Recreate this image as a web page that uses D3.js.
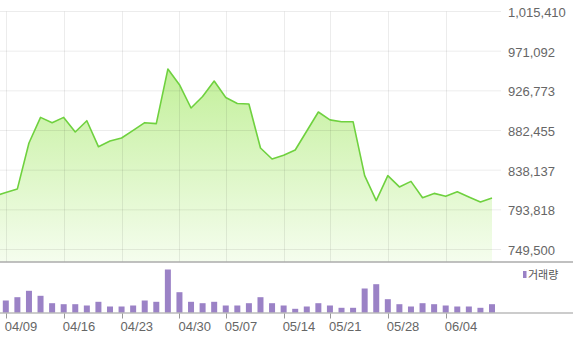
<!DOCTYPE html>
<html>
<head>
    <meta charset="UTF-8" />
    <title>Price and volume</title>
    <script src="https://d3js.org/d3.v7.min.js"></script>
    <style>
    body { margin: 0; background: #fff; }
    text { font-family: "Liberation Sans", Arial, sans-serif; }
    </style>
</head>
<body>
<div id="main"></div>
<script type="text/javascript">

// trading days (first one is only partly visible at the left edge)
const dates = [
  "04/06",
  "04/09", "04/10", "04/11", "04/12", "04/13",
  "04/16", "04/17", "04/18", "04/19", "04/20",
  "04/23", "04/24", "04/25", "04/26", "04/27",
  "04/30", "05/02", "05/03", "05/04",
  "05/07", "05/08", "05/09", "05/10", "05/11",
  "05/14", "05/15", "05/16", "05/17",
  "05/21", "05/22", "05/23", "05/24", "05/25",
  "05/28", "05/29", "05/30", "05/31", "06/01",
  "06/04", "06/05", "06/06", "06/07", "06/08"
]

const prices = [
  809100,
  813100, 817200, 868500, 897100, 891200,
  897100, 880800, 893400, 864400, 870700,
  874100, 882600, 891200, 890100, 951100,
  933600, 907600, 920500, 937700,
  919400, 912700, 912000, 862900, 850600,
  854700, 860700, 881900, 903100,
  894300, 892300, 892300, 832000, 804100,
  832000, 819400, 825600, 807400, 812200,
  808900, 814100, 808200, 802600, 807100
]

const volumes = [
  20000,
  24000, 30600, 43400, 33400, 18600,
  16600, 16600, 14000, 21400, 12000,
  12000, 14000, 24000, 21400, 86000,
  40600, 21400, 18600, 21400,
  14000, 14000, 18600, 30600, 18600,
  14000, 7400, 12000, 18600,
  14000, 9400, 9400, 48000, 56600,
  26600, 16600, 12000, 18600, 16600,
  14000, 12000, 12000, 9400, 16600
]

const tickLabels = ["04/09", "04/16", "04/23", "04/30", "05/07", "05/14", "05/21", "05/28", "06/04"]
const priceTicks = [749500, 793818, 838137, 882455, 926773, 971092, 1015410]
const legendLabel = "거래량"

const width = 573
const height = 338
const plotRight = 501
const priceBottom = 262
const volBase = 312.5

const data = dates.map((d, i) => ({ date: d, price: prices[i], volume: volumes[i] }))

const x = d3.scalePoint()
  .domain(dates)
  .range([-5.77, 492])

const y = d3.scaleLinear()
  .domain([749500, 1015410])
  .range([249.5, 11.5])

const yVol = d3.scaleLinear()
  .domain([0, 100000])
  .range([volBase, volBase - 50])

const svg = d3.select("#main").append("svg")
  .attr("width", width)
  .attr("height", height)

const defs = svg.append("defs")
defs.append("clipPath").attr("id", "plot")
  .append("rect")
  .attr("x", 0).attr("y", 0)
  .attr("width", plotRight).attr("height", priceBottom)

const grad = defs.append("linearGradient")
  .attr("id", "fillGrad")
  .attr("gradientUnits", "userSpaceOnUse")
  .attr("x1", 0).attr("x2", 0)
  .attr("y1", 60).attr("y2", priceBottom)
grad.append("stop").attr("offset", 0).attr("stop-color", "#c0ef96")
grad.append("stop").attr("offset", 1).attr("stop-color", "#f5fdee")

const plot = svg.append("g").attr("clip-path", "url(#plot)")

// price area + line
const area = d3.area()
  .x(d => x(d.date))
  .y0(priceBottom)
  .y1(d => y(d.price))

const line = d3.line()
  .x(d => x(d.date))
  .y(d => y(d.price))

plot.append("path")
  .datum(data)
  .attr("d", area)
  .attr("fill", "url(#fillGrad)")

// grid drawn over the fill, semi transparent
plot.selectAll(".hgrid").data(priceTicks).enter().append("line")
  .attr("x1", 0).attr("x2", plotRight)
  .attr("y1", d => y(d)).attr("y2", d => y(d))
  .attr("stroke", "rgba(0,0,0,0.075)")

plot.selectAll(".vgrid").data(tickLabels).enter().append("line")
  .attr("x1", d => Math.round(x(d)) + 0.5).attr("x2", d => Math.round(x(d)) + 0.5)
  .attr("y1", y(1015410)).attr("y2", priceBottom)
  .attr("stroke", "rgba(0,0,0,0.075)")

plot.append("path")
  .datum(data)
  .attr("d", line)
  .attr("fill", "none")
  .attr("stroke", "#6fd13f")
  .attr("stroke-width", 1.6)
  .attr("stroke-linejoin", "round")

// separator between price and volume panes
svg.append("line")
  .attr("x1", 0).attr("x2", width)
  .attr("y1", priceBottom).attr("y2", priceBottom)
  .attr("stroke", "#ababab")
  .attr("stroke-width", 1.5)

// volume bars
svg.selectAll(".vol").data(data).enter().append("rect")
  .attr("x", d => x(d.date) - 3)
  .attr("y", d => yVol(d.volume))
  .attr("width", 6)
  .attr("height", d => volBase - yVol(d.volume))
  .attr("fill", "#9b82c6")

svg.append("line")
  .attr("x1", 0).attr("x2", width)
  .attr("y1", volBase + 0.5).attr("y2", volBase + 0.5)
  .attr("stroke", "#999")

// date ticks and labels
svg.selectAll(".tick").data(tickLabels).enter().append("line")
  .attr("x1", d => Math.round(x(d)) + 0.5).attr("x2", d => Math.round(x(d)) + 0.5)
  .attr("y1", volBase + 1).attr("y2", volBase + 6)
  .attr("stroke", "#999")

svg.selectAll(".xlabel").data(tickLabels).enter().append("text")
  .attr("x", d => x(d) - 1)
  .attr("y", 331)
  .attr("font-size", 13)
  .attr("fill", "#666")
  .text(d => d)

// price labels on the right
svg.selectAll(".ylabel").data(priceTicks).enter().append("text")
  .attr("x", 508)
  .attr("y", d => y(d) + 5.5)
  .attr("font-size", 13)
  .attr("fill", "#666")
  .text(d => d3.format(",")(d))

// legend
svg.append("rect")
  .attr("x", 523).attr("y", 271)
  .attr("width", 3.5).attr("height", 7)
  .attr("fill", "#9b82c6")

svg.append("text")
  .attr("x", 528)
  .attr("y", 278.5)
  .attr("font-size", 11)
  .attr("fill", "#555")
  .style("font-family", "'Noto Sans CJK KR', sans-serif")
  .text(legendLabel)

</script>
</body>
</html>
